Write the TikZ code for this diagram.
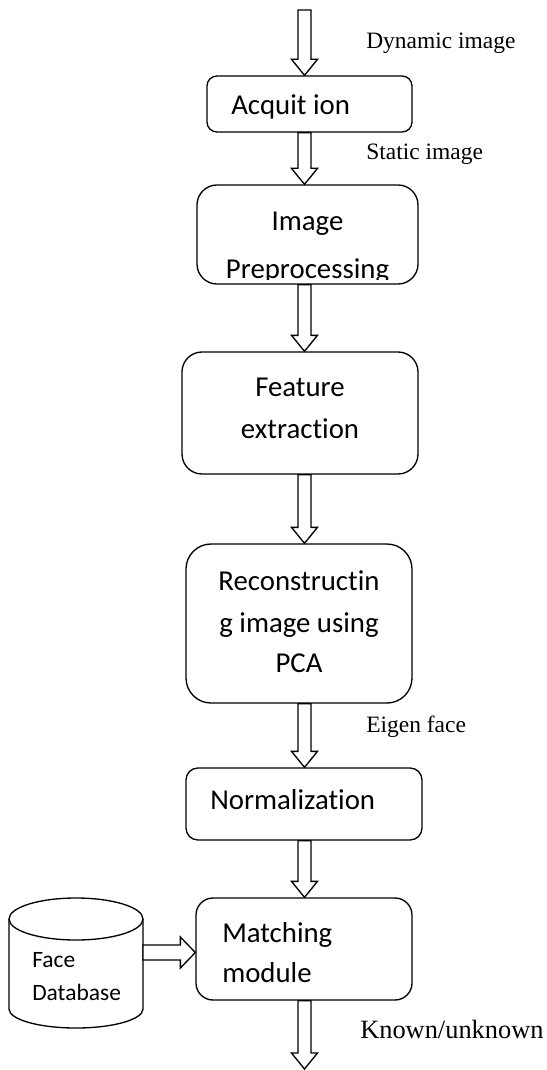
\documentclass[tikz,border=0pt]{standalone}
\usepackage{fontspec}
\setmainfont{Liberation Serif}
\newfontfamily\boxfont[Ligatures=NoCommon]{Carlito}
\usetikzlibrary{calc}
\tikzset{
  stage/.style={draw=black, line width=1pt, fill=white, inner sep=0pt},
  boxtext/.style={font=\boxfont\fontsize{21.6pt}{26pt}\selectfont, inner sep=0pt},
  dbtext/.style={font=\boxfont\fontsize{17.6pt}{21pt}\selectfont, inner sep=0pt, anchor=base west},
  lbl/.style={font=\fontsize{17.6pt}{21pt}\selectfont, inner sep=0pt, anchor=base west},
  blockarrow/.style={draw=black, line width=1pt, fill=white, line join=miter},
}
\newcommand{\vblock}[2]{\draw[blockarrow] let \p1=(#1), \p2=(#2) in
  (\x1-4.875pt,\y1) -- (\x1-4.875pt,\y2+12pt) -- (\x1-9.75pt,\y2+12pt) -- (\x1,\y2)
  -- (\x1+9.75pt,\y2+12pt) -- (\x1+4.875pt,\y2+12pt) -- (\x1+4.875pt,\y1) -- cycle;}
\newcommand{\hblock}[2]{\draw[blockarrow] let \p1=(#1), \p2=(#2) in
  (\x1,\y1+5.625pt) -- (\x2-11.25pt,\y1+5.625pt) -- (\x2-11.25pt,\y1+11.625pt) -- (\x2,\y1)
  -- (\x2-11.25pt,\y1-11.625pt) -- (\x2-11.25pt,\y1-5.625pt) -- (\x1,\y1-5.625pt) -- cycle;}
\begin{document}
\begin{tikzpicture}[x=0.75pt,y=-0.75pt]
\useasboundingbox (0,0) rectangle (546,1070);
\coordinate (axis) at (304.5,0);
\coordinate (in) at (304.5,10);
\coordinate (out) at (304.5,1069);

% stages
\node[stage, rounded corners=7.5pt, minimum width=153.75pt, minimum height=42pt] (acq) at (309.5,104) {};
\node[stage, rounded corners=15pt, minimum width=165.75pt, minimum height=74.25pt] (pre) at (307.5,234.5) {};
\node[stage, rounded corners=15pt, minimum width=177pt, minimum height=91.5pt] (feat) at (300,413) {};
\node[stage, rounded corners=18.75pt, minimum width=169.5pt, minimum height=119.25pt] (recon) at (299,623.5) {};
\node[stage, rounded corners=9pt, minimum width=177pt, minimum height=54pt] (norm) at (304,804) {};
\node[stage, rounded corners=12.75pt, minimum width=162pt, minimum height=76.5pt] (match) at (304,949) {};

% texts in stages
\node[boxtext, anchor=base west] (acqt) at (231,115) {Acquit ion};
\node[boxtext, anchor=base] (pret1) at (307.5,230) {Image};
\begin{scope}
  \clip (197,185) rectangle (418,279);
  \node[boxtext, anchor=base] (pret2) at (307.5,278) {Preprocessing};
\end{scope}
\node[boxtext, anchor=base] (featt1) at (300,396) {Feature};
\node[boxtext, anchor=base] (featt2) at (300,438) {extraction};
\node[boxtext, anchor=base] (recont1) at (299,590) {Reconstructin};
\node[boxtext, anchor=base] (recont2) at (299,632) {g image using};
\node[boxtext, anchor=base] (recont3) at (299,672) {PCA};
\node[boxtext, anchor=base west] (normt) at (210,809) {Normalization};
\node[boxtext, anchor=base west] (matcht1) at (222,942) {Matching};
\node[boxtext, anchor=base west] (matcht2) at (222,982) {module};

% database cylinder
\draw[line width=1pt, fill=white] (9,919) -- (9,1009)
  arc[start angle=180, end angle=360, x radius=50.25pt, y radius=14.25pt] -- (143,919);
\draw[line width=1pt, fill=white] (76,919) ellipse [x radius=50.25pt, y radius=15.75pt];
\coordinate (db) at (143,952.5);
\node[dbtext] (dbt1) at (32,967) {Face};
\node[dbtext] (dbt2) at (32,1000) {Database};

% arrows
\vblock{in}{axis |- acq.north}
\vblock{axis |- acq.south}{axis |- pre.north}
\vblock{axis |- pre.south}{axis |- feat.north}
\vblock{axis |- feat.south}{axis |- recon.north}
\vblock{axis |- recon.south}{axis |- norm.north}
\vblock{axis |- norm.south}{axis |- match.north}
\vblock{axis |- match.south}{out}
\hblock{db}{match.west |- db}

% labels
\node[lbl] (l1) at (366,49) {Dynamic image};
\node[lbl] (l2) at (366,160) {Static image};
\node[lbl] (l3) at (366,732) {Eigen face};
\node[lbl, font=\fontsize{19.8pt}{24pt}\selectfont] (l4) at (360,1038) {Known/unknown};
\end{tikzpicture}
\end{document}
